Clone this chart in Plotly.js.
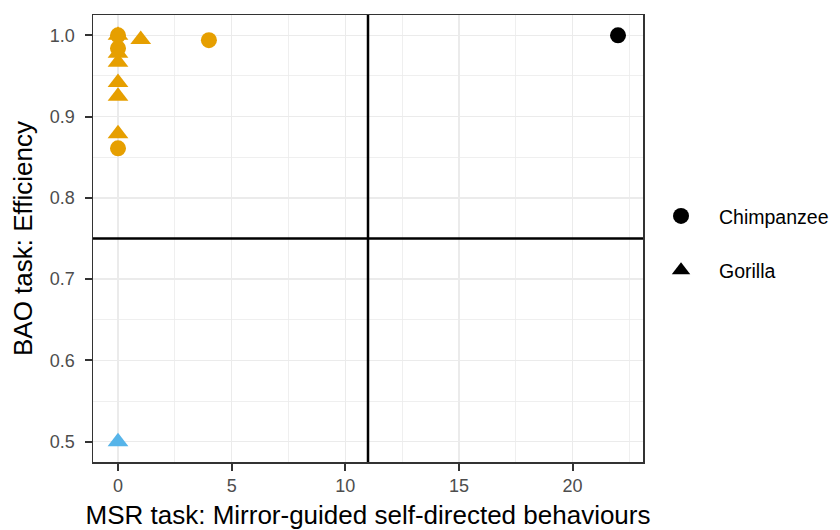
<!DOCTYPE html>
<html>
<head>
<meta charset="utf-8">
<script src="https://cdn.plot.ly/plotly-3.0.1.min.js"></script>
<style>html,body{margin:0;padding:0;background:#fff;}#chart{width:840px;height:530px;}</style>
</head>
<body>
<div id="chart"></div>
<script>
// Data
const msr     = [22,   0,     0,     0,     4,     0,    0,     0,     0,     0,     0,     1,     0];
const bao     = [1.0,  1.0,   0.984, 0.861, 0.994, 1.0,  0.978, 0.967, 0.942, 0.925, 0.879, 0.995, 0.5];
const species = ['Chimpanzee','Chimpanzee','Chimpanzee','Chimpanzee','Chimpanzee','Gorilla','Gorilla','Gorilla','Gorilla','Gorilla','Gorilla','Gorilla','Gorilla'];
const group   = ['A','B','B','B','B','B','B','B','B','B','B','B','C'];
const speciesNames = ['Chimpanzee','Gorilla'];
const groupNames = ['A','B','C'];
const groupColors = {A:'#000000', B:'#E69F00', C:'#56B4E9'};
const speciesSymbols = {Chimpanzee:'circle', Gorilla:'triangle-up'};
const speciesSizes = {Chimpanzee:16, Gorilla:18};
const vlineX = [11];
const hlineY = [0.75];
const xTicks = [0,5,10,15,20];
const yTicks = [0.5,0.6,0.7,0.8,0.9,1.0];
const yTickText = ['0.5','0.6','0.7','0.8','0.9','1.0'];

const traces = [];
speciesNames.forEach(sp => {
  groupNames.forEach(g => {
    const xs = [], ys = [];
    msr.forEach((v,i) => { if (species[i]===sp && group[i]===g) { xs.push(v); ys.push(bao[i]); } });
    if (xs.length) traces.push({
      type:'scatter', mode:'markers', x:xs, y:ys, showlegend:false, hoverinfo:'skip',
      marker:{symbol:speciesSymbols[sp], size:speciesSizes[sp], color:groupColors[g], line:{width:0}}
    });
  });
});
speciesNames.forEach(sp => {
  traces.push({
    type:'scatter', mode:'markers', x:[null], y:[null], name:sp, legendgroup:sp, showlegend:true,
    marker:{symbol:speciesSymbols[sp], size:16, color:'#000000', line:{width:0}}
  });
});

const shapes = [];
vlineX.forEach(v => shapes.push({type:'line', xref:'x', yref:'paper', x0:v, x1:v, y0:0, y1:1, line:{color:'#000', width:2.5}, layer:'above'}));
hlineY.forEach(v => shapes.push({type:'line', xref:'paper', yref:'y', x0:0, x1:1, y0:v, y1:v, line:{color:'#000', width:2.5}, layer:'above'}));

const font = 'Liberation Sans, Arial, Helvetica, sans-serif';
const layout = {
  width:840, height:530,
  margin:{l:93, r:197, t:15, b:68},
  paper_bgcolor:'#fff', plot_bgcolor:'#fff',
  font:{family:font, color:'#000'},
  showlegend:true,
  legend:{xref:'container', yref:'container', x:0.7655, xanchor:'left', y:0.541, yanchor:'middle',
          font:{size:19.5, family:font, color:'#000'},
          tracegroupgap:26, itemsizing:'trace', itemwidth:66, bgcolor:'rgba(0,0,0,0)'},
  xaxis:{
    range:[-1.1, 23.1], tickvals:xTicks, ticktext:xTicks.map(String),
    showgrid:true, gridcolor:'#ebebeb', gridwidth:1.4,
    minor:{dtick:2.5, tick0:0, showgrid:true, gridcolor:'#ebebeb', gridwidth:0.8, ticks:''},
    zeroline:false, showline:true, mirror:true, linecolor:'#333', linewidth:1.5,
    ticks:'outside', ticklen:7, tickwidth:2, tickcolor:'#333',
    tickfont:{size:18, color:'#4d4d4d', family:font},
    title:{text:'MSR task: Mirror-guided self-directed behaviours', font:{size:26, color:'#000', family:font}, standoff:11}
  },
  yaxis:{
    range:[0.475, 1.025], tickvals:yTicks, ticktext:yTickText,
    showgrid:true, gridcolor:'#ebebeb', gridwidth:1.4,
    minor:{dtick:0.05, tick0:0.5, showgrid:true, gridcolor:'#ebebeb', gridwidth:0.8, ticks:''},
    zeroline:false, showline:true, mirror:true, linecolor:'#333', linewidth:1.5,
    ticks:'outside', ticklen:7, tickwidth:2, tickcolor:'#333', ticklabelstandoff:6,
    tickfont:{size:18, color:'#4d4d4d', family:font},
    title:{text:'BAO task: Efficiency', font:{size:26, color:'#000', family:font}, standoff:10}
  },
  shapes:shapes
};
Plotly.newPlot('chart', traces, layout, {displayModeBar:false, staticPlot:true});
</script>
</body>
</html>
